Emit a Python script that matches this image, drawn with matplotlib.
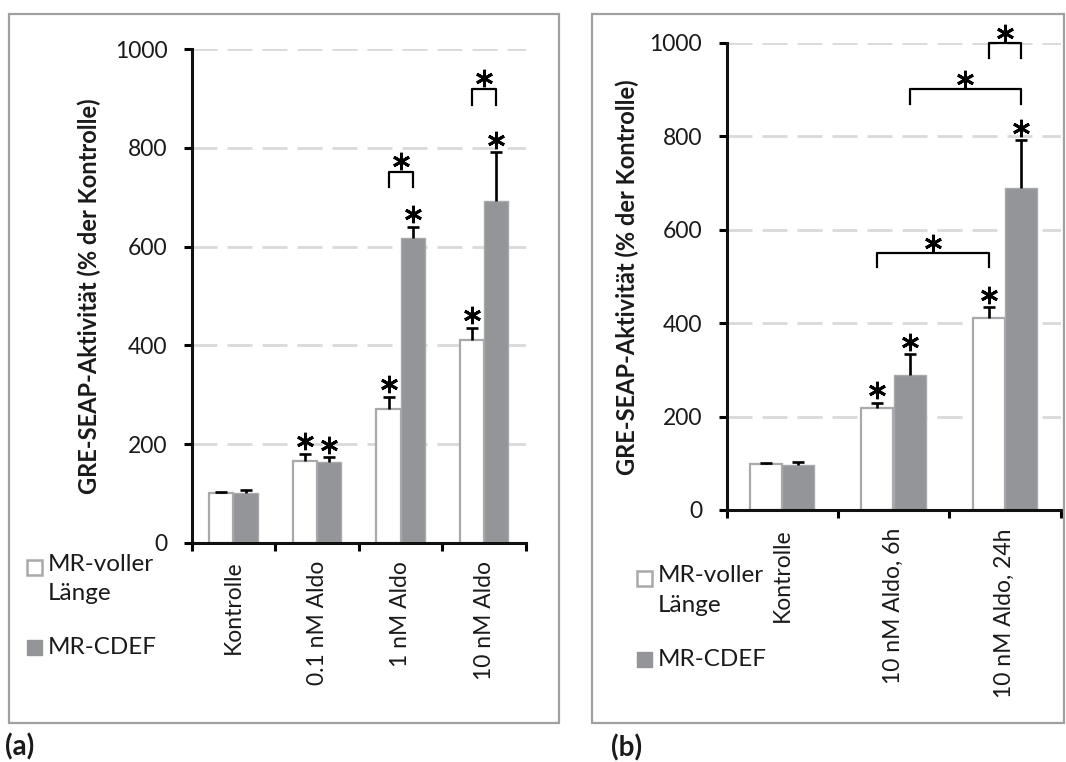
"""GRE-SEAP-Aktivität: MR-voller Länge vs. MR-CDEF, Panels (a) und (b)."""
import matplotlib
matplotlib.use("Agg")
import matplotlib.pyplot as plt
import numpy as np
from matplotlib.patches import Rectangle

plt.rcParams["font.family"] = ["Lato", "DejaVu Sans"]

W, H = 1066, 762

# ---- Panel (a): Dosis
groups_a = ["Kontrolle", "0.1 nM Aldo", "1 nM Aldo", "10 nM Aldo"]
full_a = [100, 165, 270, 411]
full_a_err = [2, 15, 26, 24]
cdef_a = [100, 164, 617, 692]
cdef_a_err = [7, 9, 23, 99]
star_full_a = [False, True, True, True]
star_cdef_a = [False, True, True, True]
# (gruppe, serie) -> (gruppe, serie), höhe
brackets_a = [((2, 0), (2, 1), 752), ((3, 0), (3, 1), 919)]

# ---- Panel (b): Zeitverlauf
groups_b = ["Kontrolle", "10 nM Aldo, 6h", "10 nM Aldo, 24h"]
full_b = [99, 219, 410]
full_b_err = [2, 11, 25]
cdef_b = [97, 288, 690]
cdef_b_err = [6, 45, 102]
star_full_b = [False, True, True]
star_cdef_b = [False, True, True]
brackets_b = [((1, 0), (2, 0), 550), ((1, 1), (2, 1), 900), ((2, 0), (2, 1), 999)]

series_names = ["MR-voller\nLänge", "MR-CDEF"]
GRAY = "#939598"
EDGE = "#a7a9ac"
TXT = "#1a1a1a"
WIDTH = 0.29


def fig_rect(x0, y0, x1, y1):
    return [x0 / W, 1 - y1 / H, (x1 - x0) / W, (y1 - y0) / H]


def draw_panel(ax, groups, full, full_err, cdef, cdef_err, star_full, star_cdef, brackets):
    x = np.arange(len(groups))
    xs = [x - WIDTH / 2, x + WIDTH / 2]
    vals = [np.array(full), np.array(cdef)]
    errs = [np.array(full_err), np.array(cdef_err)]
    stars = [star_full, star_cdef]

    ax.bar(xs[0], vals[0], WIDTH, color="white", edgecolor=EDGE, linewidth=1.6, zorder=2)
    ax.bar(xs[1], vals[1], WIDTH, color=GRAY, edgecolor=EDGE, linewidth=1.0, zorder=2)
    for s in range(2):
        _, caps, _ = ax.errorbar(xs[s], vals[s], yerr=[np.zeros(len(x)), errs[s]], fmt="none",
                                 ecolor="black", elinewidth=1.9, capsize=4.5, capthick=1.9, zorder=3)
        caps[0].set_visible(False)
        top = vals[s] + errs[s]
        mask = np.array(stars[s])
        ax.plot(xs[s][mask], top[mask] + 26, ls="none", marker=(6, 2, 0), ms=12.5,
                mew=2.1, color="black", zorder=4, clip_on=False)

    for (g1, s1), (g2, s2), yb in brackets:
        x1, x2 = xs[s1][g1], xs[s2][g2]
        ax.plot([x1, x1, x2, x2], [yb - 31, yb, yb, yb - 31], color="black", lw=1.6,
                zorder=4, clip_on=False)
        ax.plot([(x1 + x2) / 2], [yb + 22], ls="none", marker=(6, 2, 0), ms=12.5,
                mew=2.1, color="black", zorder=4, clip_on=False)

    ax.set_xlim(-0.5, len(groups) - 0.5)
    ax.set_ylim(0, 1000)
    ax.set_yticks(np.arange(0, 1001, 200))
    ax.set_xticks(x)
    ax.set_xticklabels(groups, rotation=90, fontsize=16.5)
    ax.set_xticks(np.arange(-0.5, len(groups)), minor=True)
    ax.tick_params(axis="x", which="major", length=0, pad=13)
    ax.tick_params(axis="x", which="minor", length=6, width=2.2, direction="out")
    ax.tick_params(axis="y", length=5.5, width=2.2, pad=12, labelsize=16.5, labelcolor=TXT)
    ax.tick_params(axis="x", labelcolor=TXT)
    for side in ["top", "right"]:
        ax.spines[side].set_visible(False)
    for side in ["left", "bottom"]:
        ax.spines[side].set_linewidth(2.2)
        ax.spines[side].set_color("#111111")
    ax.yaxis.grid(True, color="#d9d9d9", lw=2.0, ls=(0, (9, 3.6)))
    ax.set_axisbelow(True)


def draw_legend(fig, x0, y_first, y_second):
    # Quadrat + Text, wie im Original links unter der Achse
    s = 15
    fig.add_artist(Rectangle(((x0 + 1) / W, 1 - (y_first + s / 2) / H), s / W, s / H,
                             transform=fig.transFigure, facecolor="white", edgecolor=EDGE, lw=1.8))
    fig.add_artist(Rectangle(((x0 + 1) / W, 1 - (y_second + s / 2) / H), s / W, s / H,
                             transform=fig.transFigure, facecolor=GRAY, edgecolor=GRAY, lw=1.0))
    fig.text((x0 + 22) / W, 1 - (y_first - 13) / H, series_names[0], fontsize=17.5,
             va="top", ha="left", linespacing=1.5, color=TXT)
    fig.text((x0 + 22) / W, 1 - (y_second + 1) / H, series_names[1], fontsize=17.5,
             va="center", ha="left", color=TXT)


fig = plt.figure(figsize=(W / 100, H / 100), dpi=100)

ax_a = fig.add_axes(fig_rect(191.7, 49.3, 526, 542.7))
draw_panel(ax_a, groups_a, full_a, full_a_err, cdef_a, cdef_a_err, star_full_a, star_cdef_a, brackets_a)
ax_b = fig.add_axes(fig_rect(726.5, 42.7, 1060.5, 510))
draw_panel(ax_b, groups_b, full_b, full_b_err, cdef_b, cdef_b_err, star_full_b, star_cdef_b, brackets_b)

ylabel = "GRE-SEAP-Aktivität (% der Kontrolle)"
fig.text(89 / W, 1 - 296 / H, ylabel, rotation=90, ha="center", va="center",
         fontsize=17, fontweight="bold", color=TXT)
fig.text(627 / W, 1 - 277 / H, ylabel, rotation=90, ha="center", va="center",
         fontsize=17, fontweight="bold", color=TXT)

draw_legend(fig, 26, 567, 647)
draw_legend(fig, 636, 578, 659)

# Rahmen um die Panels
for x0, x1 in [(9, 559), (592, 1064)]:
    fig.add_artist(Rectangle((x0 / W, 1 - 723 / H), (x1 - x0) / W, (723 - 14) / H,
                             transform=fig.transFigure, fill=False, edgecolor="#a0a0a0", lw=1.6))

fig.text(5 / W, 1 - 747 / H, "(a)", fontsize=20, fontweight="bold", va="center", ha="left",
         color=TXT)
fig.text(611 / W, 1 - 748 / H, "(b)", fontsize=20, fontweight="bold", va="center", ha="left",
         color=TXT)

fig.savefig("out.png", dpi=100)
